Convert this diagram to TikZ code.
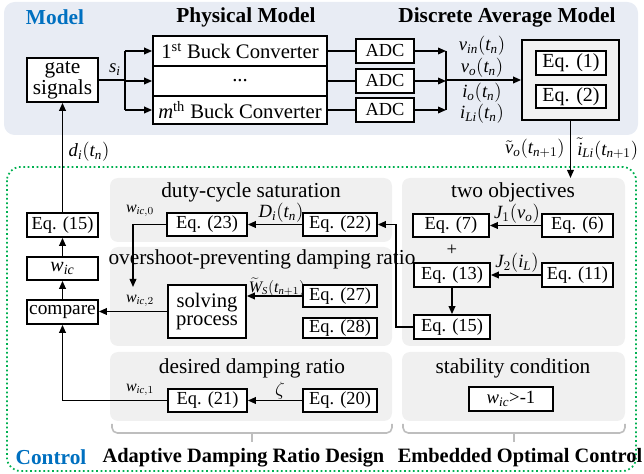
\documentclass[tikz,border=0pt]{standalone}
\usepackage{fontspec}
\setmainfont{Liberation Serif}
\usetikzlibrary{arrows.meta}
\definecolor{modelbg}{RGB}{232,236,244}
\definecolor{panelbg}{RGB}{240,240,240}
\definecolor{dambg}{RGB}{242,242,242}
\definecolor{ctrlgreen}{RGB}{0,176,80}
\definecolor{hdrblue}{RGB}{0,112,192}
\definecolor{bracegray}{RGB}{190,190,190}
\newcommand\mi[1]{\mathit{#1}}
\tikzset{
 box/.style={draw, line width=1.3pt, fill=white, inner sep=0pt, font=\fontsize{13.8}{15}\selectfont},
 panel/.style={fill=panelbg, rounded corners=6pt},
 arr/.style={line width=1.1pt, -{Triangle[length=6pt,width=5pt]}},
 ln/.style={line width=1.1pt},
 ttl/.style={font=\fontsize{16}{18}\selectfont, inner sep=0pt},
 hdr/.style={font=\bfseries\fontsize{16}{18}\selectfont, inner sep=0pt},
 bhdr/.style={font=\bfseries\fontsize{15.3}{18}\selectfont, inner sep=0pt},
 lab/.style={font=\fontsize{14}{16}\selectfont, inner sep=0pt},
 slab/.style={font=\fontsize{12}{14}\selectfont, inner sep=0pt},
 brace/.style={draw=bracegray, line width=1.2pt, rounded corners=4pt},
}
\newcommand\bx[7][]{\node[box,#1,minimum width={(#5-#3)*0.75pt},minimum height={(#6-#4)*0.75pt}] (#2) at ({(#3+#5)/2},{(#4+#6)/2}) {#7};}
\begin{document}
\begin{tikzpicture}[x=0.75pt,y=-0.75pt]
\useasboundingbox (0,0) rectangle (644,474);
% backgrounds
\fill[modelbg, rounded corners=8pt] (4,2) rectangle (638,135);
\draw[ctrlgreen, line width=1.3pt, dotted, rounded corners=10pt] (7,167) rectangle (636,471);
\fill[panel] (110,178) rectangle (392,242);
\fill[panel] (110,247) rectangle (392,346);
\fill[panel] (110,352) rectangle (392,421);
\fill[panel] (402,178) rectangle (625,346);
\fill[panel] (402,352) rectangle (625,421);
% headers
\node[hdr, text=hdrblue] (hmodel) at (55,17) {Model};
\node[hdr] (hphys) at (246,17) {Physical Model};
\node[hdr] (hdam) at (507,17) {Discrete Average Model};
\node[hdr, text=hdrblue] (hctrl) at (51,457) {Control};
\node[bhdr] (hadr) at (243.5,458) {Adaptive Damping Ratio Design};
\node[bhdr] (heoc) at (520,458) {Embedded Optimal Control};
% panel titles
\node[ttl] (tduty) at (251,192) {duty-cycle saturation};
\node[ttl] (tover) at (262,259) {overshoot-preventing damping ratio};
\node[ttl] (tdes) at (252,368) {desired damping ratio};
\node[ttl] (ttwo) at (513,192) {two objectives};
\node[ttl] (tstab) at (513,368) {stability condition};
% model part
\bx[align=center, font=\fontsize{16}{14}\selectfont]{gs}{27}{58}{98}{102}{gate\\signals}
\bx[font=\fontsize{15.5}{17}\selectfont]{b1}{153}{36}{327}{66}{1\textsuperscript{st} Buck Converter}
\bx[font=\fontsize{15.5}{17}\selectfont]{b2}{153}{66}{327}{96}{...}
\bx[font=\fontsize{15.5}{17}\selectfont]{b3}{153}{96}{327}{124}{\textit{m}\textsuperscript{th} Buck Converter}
\bx{a1}{356}{39}{414}{63}{ADC}
\bx{a2}{356}{69}{414}{93}{ADC}
\bx{a3}{356}{98}{414}{122}{ADC}
\bx[fill=dambg]{dam}{522}{40}{619}{120}{}
\bx[font=\fontsize{15}{17}\selectfont]{eq1}{536}{51}{606}{75}{Eq. (1)}
\bx[font=\fontsize{15}{17}\selectfont]{eq2}{536}{85}{606}{108}{Eq. (2)}
\coordinate (sp) at (125,80);
\coordinate (mm) at (446,81);
\draw[ln] (gs.east) -- (sp);
\draw[ln] (sp |- b1.west) -- (sp |- b3.west);
\draw[arr] (sp |- b1.west) -- (b1.west);
\draw[arr] (sp |- b2.west) -- (b2.west);
\draw[arr] (sp |- b3.west) -- (b3.west);
\node[lab] (lsi) at (115,70) {$\mi{s}_\mi{i}$};
\draw[ln] (b1.east) -- (a1.west);
\draw[ln] (b2.east) -- (a2.west);
\draw[ln] (b3.east) -- (a3.west);
\draw[ln] (mm |- a1.east) -- (mm |- a3.east);
\draw[arr] (a1.east) -- (mm |- a1.east);
\draw[arr] (a2.east) -- (mm |- a2.east);
\draw[arr] (a3.east) -- (mm |- a3.east);
\draw[arr] (mm |- dam.west) -- (dam.west);
\node[lab] (lvin) at (482,46) {$\mi{v}_\mi{in}(\mi{t}_\mi{n})$};
\node[lab] (lvo) at (482,68) {$\mi{v}_\mi{o}(\mi{t}_\mi{n})$};
\node[lab] (lio) at (482,93) {$\mi{i}_\mi{o}(\mi{t}_\mi{n})$};
\node[lab] (lil) at (482,114) {$\mi{i}_\mi{Li}(\mi{t}_\mi{n})$};
\coordinate (objtop) at (570.5,178);
\draw[arr] (dam.south) -- (objtop);
\node[lab, anchor=east] (lvt) at (565,149) {$\tilde{\mi{v}}_\mi{o}(\mi{t}_{\mi{n}+1})$};
\node[lab, anchor=west] (lit) at (577,149) {$\tilde{\mi{i}}_\mi{Li}(\mi{t}_{\mi{n}+1})$};
% left column
\bx{e15l}{27}{213}{98}{237}{Eq. (15)}
\bx[font=\fontsize{15}{17}\selectfont]{wic}{27}{257}{98}{280}{$\mi{w}_\mi{ic}$}
\bx[font=\fontsize{14.5}{17}\selectfont]{cmp}{27}{300}{98}{324}{compare}
\draw[arr] (e15l.north) -- (gs.south);
\node[lab] (ldi) at (89,152) {$\mi{d}_\mi{i}(\mi{t}_\mi{n})$};
\draw[arr] (cmp.north) -- (wic.south);
\draw[arr] (wic.north) -- (e15l.south);
% duty-cycle saturation
\bx{e23}{167}{213}{247}{236}{Eq. (23)}
\bx{e22}{303}{213}{377}{236}{Eq. (22)}
\draw[arr] (e22.west) -- (e23.east);
\node[lab] (ldi2) at (281,213) {$\mi{D}_\mi{i}(\mi{t}_\mi{n})$};
\coordinate (c2) at (133,287);
\draw[arr] (e23.west) -| (c2);
\node[slab] (lw0) at (140,211) {$\mi{w}_{\mi{ic},0}$};
% overshoot
\bx[align=center, font=\fontsize{15.5}{14}\selectfont]{sp2}{168}{285}{246}{338}{solving\\process}
\bx{e27}{303}{285}{377}{307}{Eq. (27)}
\bx{e28}{303}{318}{377}{338}{Eq. (28)}
\draw[arr] (e27.west) -- (e27.west -| sp2.east);
\node[slab] (lws) at (277,287) {$\widetilde{\mi{W}}_\mi{S}(\mi{t}_{\mi{n}+1})$};
\draw[arr] (sp2.west) -- (sp2.west -| cmp.east);
\node[slab] (lw2) at (140,301) {$\mi{w}_{\mi{ic},2}$};
% desired damping
\bx{e21}{168}{389}{247}{412}{Eq. (21)}
\bx{e20}{303}{389}{377}{412}{Eq. (20)}
\draw[arr] (e20.west) -- (e21.east);
\node[lab] (lz) at (280,391) {$\zeta$};
\draw[arr] (e21.west) -| (cmp.south);
\node[slab] (lw1) at (140,390) {$\mi{w}_{\mi{ic},1}$};
% two objectives
\bx{e7}{413}{214}{489}{237}{Eq. (7)}
\bx{e6}{542}{214}{613}{237}{Eq. (6)}
\draw[arr] (e6.west) -- (e7.east);
\node[lab] (lj1) at (517,214) {$\mi{J}_1(\mi{v}_\mi{o})$};
\node[lab] (lplus) at (452,250) {+};
\bx{e13}{414}{263}{490}{287}{Eq. (13)}
\bx{e11}{542}{263}{613}{287}{Eq. (11)}
\draw[arr] (e11.west) -- (e13.east);
\node[lab] (lj2) at (517,263) {$\mi{J}_2(\mi{i}_\mi{L})$};
\bx{e15r}{414}{315}{490}{339}{Eq. (15)}
\draw[arr] (e13.south) -- (e15r.north);
\draw[arr] (e15r.west) -- ++(-17,0) |- (e22.east);
% stability
\bx[font=\fontsize{14}{16}\selectfont]{wc}{469}{387}{553}{411}{$\mi{w}_\mi{ic}$>-1}
% braces
\draw[brace] (112,424) -- (112,433) -- (392,433) -- (392,424);
\draw[draw=bracegray, line width=1.2pt] (252,433) -- (252,442);
\draw[brace] (403,424) -- (403,433) -- (625,433) -- (625,424);
\draw[draw=bracegray, line width=1.2pt] (514,433) -- (514,442);
\end{tikzpicture}
\end{document}
